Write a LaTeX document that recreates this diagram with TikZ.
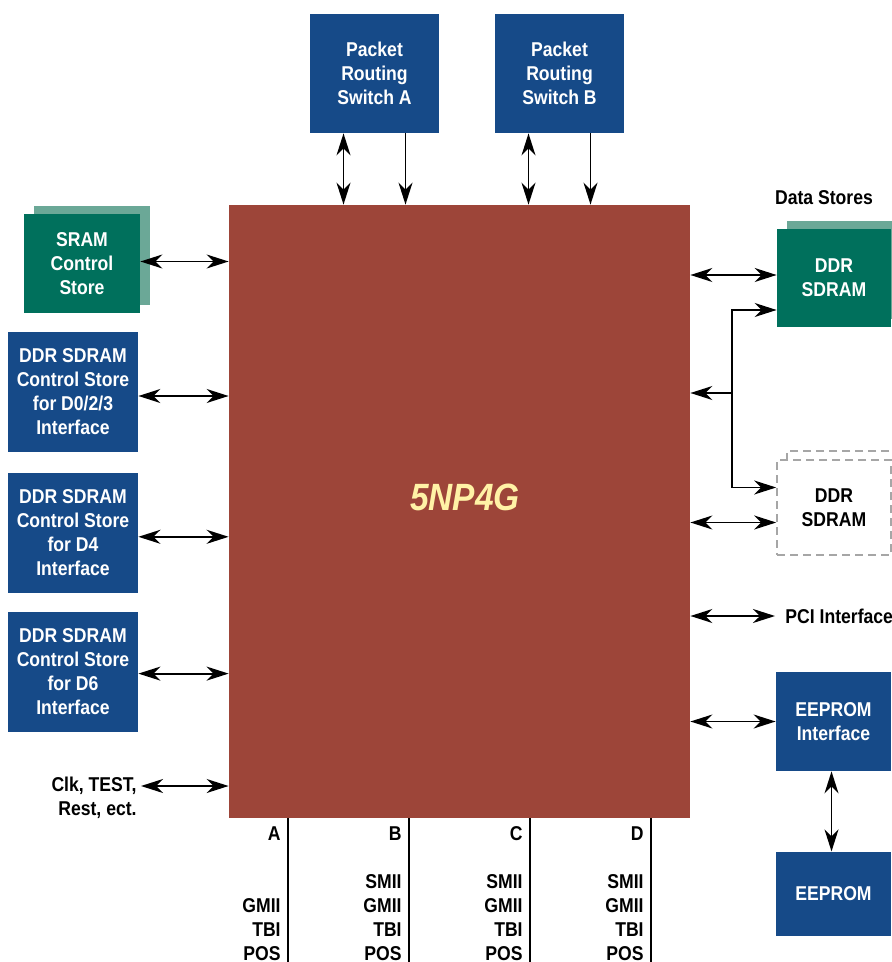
\documentclass[tikz,border=0pt]{standalone}
\usepackage{fontspec}
\setmainfont{Liberation Sans}[FakeStretch=0.88]
\usetikzlibrary{arrows.meta, positioning, shadows}
\definecolor{chipred}{HTML}{9D4539}
\definecolor{npblue}{HTML}{164A88}
\definecolor{npgreen}{HTML}{00705C}
\definecolor{npshade}{HTML}{6BA897}
\definecolor{chiptext}{HTML}{FFF2A6}

\begin{document}
\begin{tikzpicture}[
  x=0.5pt, y=-0.5pt,
  font=\bfseries\fontsize{10}{12}\selectfont,
  box/.style={
    rectangle, fill=npblue, text=white, align=center,
    inner sep=0pt, minimum width=65pt, minimum height=60pt
  },
  store/.style={
    rectangle, fill=npgreen, text=white, align=center, inner sep=0pt,
    copy shadow={shadow xshift=5pt, shadow yshift=4pt, fill=npshade, draw=none}
  },
  extstore/.style={
    rectangle, draw=gray!70, dash pattern=on 4pt off 2.5pt, line width=0.8pt,
    fill=white, align=center, inner sep=0pt,
    copy shadow={shadow xshift=5pt, shadow yshift=4.5pt, fill=white}
  },
  lbl/.style={inner sep=0pt, align=right},
  arr/.style={{Stealth[length=11pt,width=7pt,inset=3.5pt]}-{Stealth[length=11pt,width=7pt,inset=3.5pt]}, line width=0.9pt},
  arr1/.style={-{Stealth[length=11pt,width=7pt,inset=3.5pt]}, line width=0.9pt},
  port/.style={line width=0.9pt}
]
\useasboundingbox (0,0) rectangle (891,962);

% network processor
\node[rectangle, fill=chipred, minimum width=230.5pt, minimum height=306.5pt, inner sep=0pt] (chip) at (459.5,511.5) {};
\node[text=chiptext, font=\bfseries\itshape\fontsize{19}{22}\selectfont] (chipname) at (465,497) {5NP4G};

% switches
\node[box, minimum width=64.5pt, minimum height=59.5pt] (swA) at (374.5,73.5) {Packet\\Routing\\Switch A};
\node[box, minimum width=64.5pt, minimum height=59.5pt] (swB) at (559.5,73.5) {Packet\\Routing\\Switch B};

% control stores
\node[store, minimum width=58pt, minimum height=49.5pt] (sram) at (82,263.5) {SRAM\\Control\\Store};
\node[box] (cs1) at (73,392) {DDR SDRAM\\Control Store\\for D0/2/3\\Interface};
\node[box, below=10pt of cs1] (cs2) {DDR SDRAM\\Control Store\\for D4\\Interface};
\node[box, below=9pt of cs2] (cs3) {DDR SDRAM\\Control Store\\for D6\\Interface};
\node[lbl, anchor=east] (clk) at (137,797.5) {Clk, TEST,\\Rest, ect.};

% data stores
\node (dstores) at (824,198) {Data Stores};
\node[store, minimum width=57pt, minimum height=49pt] (ddr1) at (834,278) {DDR\\SDRAM};
\node[extstore, minimum width=57pt, minimum height=47.5pt] (ddr2) at (834,507.5) {DDR\\SDRAM};
\coordinate (jn) at (732,393);

\node[anchor=west, inner sep=0pt] (pci) at (785,616) {PCI Interface};
\node[box, minimum width=57.5pt, minimum height=49.5pt] (eepi) at (833.5,721.5) {EEPROM\\Interface};
\node[box, minimum width=57.5pt, minimum height=42pt, below=40pt of eepi] (eep) {EEPROM};

\draw[arr] ([xshift=-15.5pt]swA.south) -- ([xshift=-15.5pt]swA.south |- chip.north);
\draw[arr1] ([xshift=15.5pt]swA.south) -- ([xshift=15.5pt]swA.south |- chip.north);
\draw[arr] ([xshift=-15.5pt]swB.south) -- ([xshift=-15.5pt]swB.south |- chip.north);
\draw[arr1] ([xshift=15.5pt]swB.south) -- ([xshift=15.5pt]swB.south |- chip.north);

\draw[arr] ([yshift=1pt]sram.east) -- ([yshift=1pt]sram.east -| chip.west);
\draw[arr] ([yshift=-2pt]cs1.east) -- ([yshift=-2pt]cs1.east -| chip.west);
\draw[arr] ([yshift=-2pt]cs2.east) -- ([yshift=-2pt]cs2.east -| chip.west);
\draw[arr] ([yshift=-1pt]cs3.east) -- ([yshift=-1pt]cs3.east -| chip.west);
\draw[arr] ([xshift=2pt,yshift=5.75pt]clk.east) -- ([yshift=5.75pt]clk.east -| chip.west);

\draw[arr] ([yshift=1.5pt]ddr1.west) -- ([yshift=1.5pt]ddr1.west -| chip.east);
\draw[arr1] (jn) |- ([yshift=-16pt]ddr1.west);
\draw[arr1] (jn) |- ([yshift=10pt]ddr2.west);
\draw[arr1] (jn) -- (jn -| chip.east);
\draw[arr] ([yshift=-7.5pt]ddr2.west) -- ([yshift=-7.5pt]ddr2.west -| chip.east);
\draw[arr] ([xshift=-5pt]pci.west) -- (pci.west -| chip.east);
\draw[arr] (eepi.west) -- (eepi.west -| chip.east);
\draw[arr] ([xshift=-1pt]eepi.south) -- ([xshift=-1pt]eep.north);

% ports
\foreach \p/\x/\modes in {A/288/{GMII\\TBI\\POS}, B/409/{SMII\\GMII\\TBI\\POS},
                          C/530/{SMII\\GMII\\TBI\\POS}, D/651/{SMII\\GMII\\TBI\\POS}} {
  \coordinate (bus\p) at (\x,962);
  \draw[port] (chip.south -| bus\p) -- (bus\p);
  \node[lbl, anchor=base east] (port\p) at (\x-7,840) {\p};
  \node[lbl, anchor=south east] (modes\p) at (\x-7,961) {\modes};
}

\end{tikzpicture}
\end{document}
